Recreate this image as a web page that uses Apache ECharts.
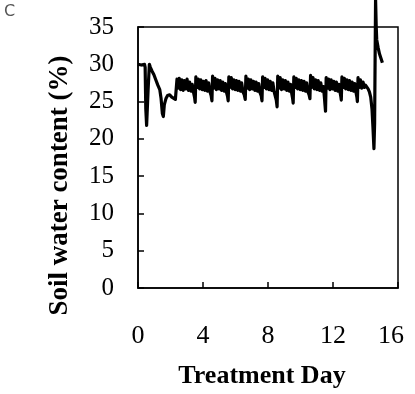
<!DOCTYPE html>
<html>
<head>
<meta charset="utf-8">
<script src="https://cdn.jsdelivr.net/npm/echarts@6/dist/echarts.min.js"></script>
<style>
html,body{margin:0;padding:0;background:#fff;}
#c{width:415px;height:394px;}
</style>
</head>
<body>
<div id="c"></div>
<script>
const panelLabel = 'C';
const xTitle = 'Treatment Day';
const yTitle = 'Soil water content (%)';
const xTicks = [0, 4, 8, 12, 16];
const yTicks = [0, 5, 10, 15, 20, 25, 30, 35];

const days = [
  0.00, 0.20, 0.40, 0.44, 0.48, 0.53, 0.62, 0.70, 0.76, 0.86, 0.98, 1.10, 1.22, 1.34, 1.42, 1.50, 1.56, 1.62, 1.72, 1.82, 1.95, 2.08, 2.20, 2.30, 2.36,
  2.40, 2.47, 2.54, 2.62, 2.70, 2.78, 2.86, 2.94, 3.02, 3.10, 3.18, 3.26, 3.34, 3.42, 3.48, 3.52,
  3.56, 3.63, 3.71, 3.79, 3.87, 3.95, 4.03, 4.11, 4.19, 4.27, 4.35, 4.43, 4.50, 4.55,
  4.59, 4.66, 4.74, 4.82, 4.90, 4.98, 5.06, 5.14, 5.22, 5.30, 5.38, 5.45, 5.51, 5.55,
  5.59, 5.66, 5.74, 5.82, 5.90, 5.98, 6.06, 6.14, 6.22, 6.30, 6.38, 6.46, 6.54, 6.60,
  6.64, 6.71, 6.79, 6.87, 6.95, 7.03, 7.11, 7.19, 7.27, 7.35, 7.43, 7.51, 7.58, 7.63,
  7.67, 7.74, 7.82, 7.90, 7.98, 8.06, 8.14, 8.22, 8.30, 8.38, 8.46, 8.51, 8.56,
  8.60, 8.67, 8.75, 8.83, 8.91, 8.99, 9.07, 9.15, 9.23, 9.31, 9.39, 9.46, 9.51, 9.55,
  9.59, 9.66, 9.74, 9.82, 9.90, 9.98, 10.06, 10.14, 10.22, 10.30, 10.38, 10.46, 10.53, 10.58,
  10.62, 10.69, 10.77, 10.85, 10.93, 11.01, 11.09, 11.17, 11.25, 11.33, 11.41, 11.47, 11.51, 11.54,
  11.58, 11.65, 11.73, 11.81, 11.89, 11.97, 12.05, 12.13, 12.21, 12.29, 12.37, 12.44, 12.48, 12.51,
  12.55, 12.62, 12.70, 12.78, 12.86, 12.94, 13.02, 13.10, 13.18, 13.26, 13.34, 13.42, 13.47, 13.50,
  13.54, 13.61, 13.69, 13.77, 13.85, 13.93, 14.00, 14.08, 14.16, 14.24, 14.32, 14.40, 14.46, 14.52,
  14.56, 14.62, 14.66, 14.69, 14.78, 14.86, 14.95, 15.04
];

const waterContent = [
  30.0, 29.9, 30.0, 29.6, 24.0, 21.8, 26.5, 30.0, 29.6, 29.1, 28.6, 27.9, 27.2, 26.6, 25.4, 23.4, 23.0, 24.6, 25.4, 25.8, 25.9, 25.6, 25.5, 25.3, 25.1,
  28.0, 26.8, 28.1, 26.6, 27.9, 26.5, 27.8, 26.7, 28.0, 26.5, 27.6, 26.4, 27.3, 26.2, 25.6, 24.9,
  28.3, 26.9, 28.0, 26.7, 27.9, 26.6, 27.7, 26.5, 27.8, 26.4, 27.5, 26.3, 25.8, 25.1,
  28.4, 26.8, 28.1, 26.6, 27.9, 26.7, 27.8, 26.5, 27.6, 26.4, 27.4, 26.2, 25.7, 25.1,
  28.3, 26.9, 28.2, 26.7, 27.9, 26.6, 27.8, 26.5, 27.7, 26.4, 27.5, 26.3, 25.9, 25.3,
  28.4, 26.8, 28.0, 26.6, 27.9, 26.7, 27.7, 26.5, 27.6, 26.4, 27.4, 26.2, 25.8, 25.1,
  28.3, 26.9, 28.1, 26.7, 27.9, 26.6, 27.7, 26.5, 27.5, 26.3, 26.1, 25.2, 24.3,
  28.4, 26.8, 28.2, 26.6, 27.9, 26.7, 27.8, 26.5, 27.6, 26.4, 27.3, 26.1, 25.5, 24.8,
  28.3, 26.9, 28.1, 26.7, 27.9, 26.6, 27.8, 26.5, 27.7, 26.4, 27.5, 26.3, 25.9, 25.4,
  28.5, 26.9, 28.2, 26.7, 27.9, 26.6, 27.8, 26.5, 27.5, 26.4, 27.0, 25.6, 24.5, 23.7,
  28.2, 26.8, 28.0, 26.6, 27.9, 26.7, 27.7, 26.5, 27.6, 26.4, 27.3, 26.2, 25.7, 25.2,
  28.3, 26.9, 28.1, 26.7, 27.9, 26.6, 27.8, 26.5, 27.6, 26.4, 27.4, 26.2, 25.6, 25.0,
  28.2, 26.9, 27.9, 26.8, 27.6, 26.9, 27.2, 27.0, 26.7, 26.3, 25.6, 24.0, 21.5, 18.7,
  22.0, 38.7, 35.0, 33.3, 32.2, 31.4, 30.8, 30.2
];

const seriesData = days.map((d, i) => [d, waterContent[i]]);

const serif = '"Liberation Serif", "Times New Roman", serif';
const lastX = xTicks[xTicks.length - 1];
const chart = echarts.init(document.getElementById('c'), null, {renderer: 'canvas'});
chart.setOption({
  animation: false,
  backgroundColor: '#fff',
  title: {
    text: panelLabel,
    left: 4, top: 4, padding: 0,
    textStyle: {fontFamily: '"DejaVu Sans", sans-serif', fontSize: 16, fontWeight: 'normal', color: '#555'}
  },
  grid: {
    left: 138, right: 17, top: 27, bottom: 100,
    show: true, borderColor: '#000', borderWidth: 1.5, backgroundColor: 'transparent'
  },
  xAxis: {
    type: 'value', min: xTicks[0], max: lastX, interval: 4,
    name: xTitle, nameLocation: 'middle', nameGap: 75,
    nameTextStyle: {fontFamily: serif, fontSize: 26, fontWeight: 'bold', color: '#000', padding: [0, 12, 0, 0]},
    axisLine: {show: true, onZero: false, lineStyle: {color: '#000', width: 1.5}},
    axisTick: {show: true, inside: true, length: 6, lineStyle: {color: '#000', width: 1.5}},
    axisLabel: {
      fontFamily: serif, fontSize: 26, color: '#000', margin: 35,
      formatter: v => v === lastX ? '{last|' + v + '}' : String(v),
      rich: {last: {fontFamily: serif, fontSize: 26, color: '#000', padding: [0, 14, 0, 0]}}
    },
    splitLine: {show: false}
  },
  yAxis: {
    type: 'value', min: yTicks[0], max: yTicks[yTicks.length - 1], interval: 5,
    name: yTitle, nameLocation: 'middle', nameGap: 64, nameRotate: 90,
    nameTextStyle: {fontFamily: serif, fontSize: 27, fontWeight: 'bold', color: '#000', padding: [0, 56, 0, 0]},
    axisLine: {show: true, onZero: false, lineStyle: {color: '#000', width: 1.5}},
    axisTick: {show: true, inside: true, length: 6, lineStyle: {color: '#000', width: 1.5}},
    axisLabel: {fontFamily: serif, fontSize: 25, color: '#000', margin: 24},
    splitLine: {show: false}
  },
  series: [{
    type: 'line',
    data: seriesData,
    showSymbol: false,
    symbol: 'none',
    clip: false,
    lineStyle: {color: '#000', width: 3.2, join: 'round'}
  }]
});
</script>
</body>
</html>
